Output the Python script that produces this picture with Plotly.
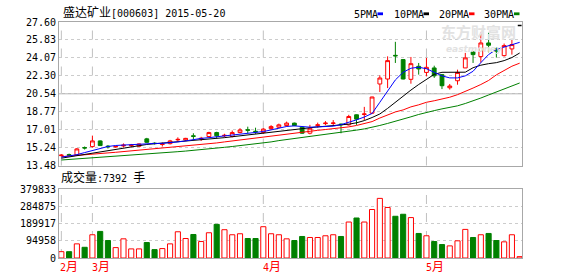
import plotly.graph_objects as go

# ---------------- data ----------------
bar_index = list(range(60))
open_ = [14.45, 14.55, 14.52, 15.25, 15.34, 15.90, 15.38, 15.30, 15.40, 15.42,
         15.37, 16.10, 15.68, 15.55, 15.63, 16.00, 15.99, 16.40, 16.10, 16.33,
         16.72, 16.40, 16.33, 16.72, 17.00, 16.85, 16.72, 17.11, 17.25, 17.41,
         17.65, 17.25, 16.66, 17.42, 17.60, 17.62, 17.55, 17.48, 18.47, 18.50,
         18.63, 21.50, 21.99, 24.32, 23.90, 21.96, 23.24, 22.64, 23.08, 22.42,
         21.13, 21.82, 23.08, 24.66, 24.20, 25.54, 24.98, 24.29, 24.95, 27.25]
high_ = [14.60, 14.65, 15.20, 15.35, 16.42, 15.95, 15.50, 15.40, 15.65, 15.60,
         15.65, 16.20, 15.75, 15.75, 16.00, 16.25, 16.20, 16.65, 16.30, 16.80,
         16.80, 16.60, 16.92, 17.15, 17.30, 17.20, 17.15, 17.45, 17.60, 17.80,
         17.70, 17.30, 17.48, 17.70, 17.85, 17.95, 17.62, 18.47, 18.50, 19.25,
         20.25, 22.35, 24.22, 25.65, 23.95, 24.16, 23.57, 24.07, 23.30, 22.45,
         21.50, 22.91, 24.56, 24.75, 26.60, 26.54, 25.10, 25.48, 25.87, 27.25]
low_ = [14.40, 14.40, 14.45, 15.05, 15.24, 15.40, 15.15, 15.25, 15.25, 15.30,
        15.30, 15.70, 15.55, 15.35, 15.55, 15.85, 15.90, 16.05, 15.90, 16.25,
        16.15, 16.25, 16.25, 16.65, 16.65, 16.60, 16.60, 17.00, 17.15, 17.30,
        17.35, 16.60, 16.55, 17.20, 17.45, 17.45, 16.65, 17.41, 17.48, 17.95,
        18.55, 20.71, 21.10, 23.57, 21.95, 21.53, 22.42, 22.25, 22.10, 21.00,
        20.95, 21.43, 23.08, 23.57, 23.60, 24.62, 24.10, 24.20, 24.39, 27.25]
close_ = [14.50, 14.50, 15.11, 15.20, 15.90, 15.44, 15.33, 15.35, 15.48, 15.48,
          15.60, 15.76, 15.64, 15.60, 15.90, 16.05, 16.15, 16.35, 16.15, 16.72,
          16.40, 16.45, 16.72, 16.98, 16.95, 16.80, 17.06, 17.31, 17.48, 17.65,
          17.41, 16.66, 17.15, 17.48, 17.65, 17.66, 17.50, 18.30, 18.04, 18.55,
          20.22, 22.09, 23.80, 24.27, 21.99, 23.50, 22.98, 23.14, 22.30, 21.33,
          21.30, 22.64, 24.07, 24.39, 25.54, 25.31, 24.72, 25.28, 25.38, 27.25]

ma5 = [14.30, 14.40, 14.55, 14.75, 14.95, 15.15, 15.35, 15.45, 15.50, 15.55,
       15.58, 15.62, 15.65, 15.66, 15.70, 15.80, 15.90, 16.05, 16.15, 16.22,
       16.30, 16.38, 16.48, 16.58, 16.66, 16.74, 16.82, 16.98, 17.15, 17.32,
       17.38, 17.30, 17.25, 17.28, 17.30, 17.35, 17.50, 17.70, 17.97, 18.25,
       18.60, 19.70, 20.80, 21.90, 22.65, 23.05, 23.15, 23.00, 22.65, 22.30,
       22.10, 22.10, 22.30, 22.75, 23.60, 24.40, 24.90, 25.15, 25.40, 25.60]
ma10 = [14.20, 14.32, 14.45, 14.57, 14.69, 14.83, 14.97, 15.10, 15.22, 15.34,
        15.45, 15.55, 15.62, 15.68, 15.74, 15.80, 15.86, 15.92, 15.98, 16.06,
        16.14, 16.22, 16.31, 16.40, 16.48, 16.57, 16.66, 16.76, 16.88, 16.98,
        17.08, 17.15, 17.22, 17.28, 17.34, 17.40, 17.47, 17.55, 17.68, 17.90,
        18.20, 18.55, 19.10, 19.70, 20.35, 20.90, 21.45, 21.95, 22.45, 22.65,
        22.65, 22.65, 22.66, 23.10, 23.35, 23.50, 23.60, 23.80, 24.10, 24.55]
ma20 = [14.35, 14.40, 14.45, 14.52, 14.58, 14.65, 14.72, 14.78, 14.85, 14.92,
        14.98, 15.05, 15.12, 15.18, 15.25, 15.32, 15.38, 15.44, 15.50, 15.60,
        15.70, 15.80, 15.90, 16.00, 16.10, 16.20, 16.30, 16.40, 16.50, 16.60,
        16.70, 16.78, 16.86, 16.94, 17.02, 17.10, 17.18, 17.28, 17.42, 17.58,
        17.80, 18.15, 18.45, 18.75, 18.95, 19.25, 19.45, 19.70, 19.85, 20.00,
        20.20, 20.45, 20.75, 21.10, 21.45, 21.85, 22.40, 22.80, 23.25, 23.55]
ma30 = [14.02, 14.07, 14.12, 14.17, 14.22, 14.27, 14.33, 14.38, 14.44, 14.49,
        14.55, 14.60, 14.66, 14.72, 14.78, 14.84, 14.90, 14.96, 15.02, 15.10,
        15.18, 15.27, 15.35, 15.43, 15.51, 15.59, 15.67, 15.80, 15.93, 16.03,
        16.12, 16.21, 16.30, 16.40, 16.52, 16.64, 16.74, 16.85, 16.96, 17.08,
        17.22, 17.42, 17.62, 17.82, 18.02, 18.27, 18.50, 18.72, 18.88, 19.05,
        19.20, 19.35, 19.58, 19.82, 20.12, 20.42, 20.70, 21.00, 21.30, 21.60]

volume = [35000, 35000, 78200, 59200, 128500, 147000, 96600, 57500, 106000, 50300,
          50300, 85500, 46400, 52000, 78200, 145000, 107800, 130000, 91000, 139600,
          186000, 156400, 128500, 134000, 107800, 107800, 173000, 134000, 128500, 106000,
          96600, 119000, 113400, 113400, 122900, 128500, 119000, 198900, 221200, 198900,
          268100, 329600, 279300, 230700, 241900, 223400, 135700, 122900, 91000, 74300,
          67000, 95000, 158100, 113400, 128500, 135700, 96600, 89400, 128500, 7392]

price_ticks = [13.48, 15.24, 17.01, 18.77, 20.54, 22.30, 24.07, 25.83, 27.60]
vol_ticks = [0, 94958, 189917, 284875, 379833]
month_start = [0, 4, 26, 47]
month_labels = ["2月", "3月", "4月", "5月"]
ma_names = ["5PMA", "10PMA", "20PMA", "30PMA"]
title_name = "盛达矿业"
title_code = "[000603] 2015-05-20"
vol_label = "成交量"
last_volume_text = "7392"
vol_unit = "手"

# ---------------- styling ----------------
W, H = 578, 276
ML, MR, MT, MB = 59, 56, 22, 18
PW, PH = W - ML - MR, H - MT - MB
RED, GREEN, BLUE, BLACK = "#ff0000", "#008000", "#0000ff", "#000000"
MA_COLORS = [BLUE, BLACK, RED, GREEN]
GRID = "#cccccc"
FRAME = "#a8a8a8"
MONO = "DejaVu Sans Mono, Noto Sans CJK SC"


def px_x(p):
    return (p - ML) / PW


def px_y(p):
    return (H - MB - p) / PH


price_dom = [px_y(165.5), 1.0]
vol_dom = [0.0, px_y(189.3)]
xr = [-0.3, 59.3]

flat = [o == h == l == c for o, h, l, c in zip(open_, high_, low_, close_)]
idx_n = [i for i in bar_index if not flat[i]]
idx_f = [i for i in bar_index if flat[i]]

fig = go.Figure()
fig.add_trace(go.Candlestick(
    x=idx_n, open=[open_[i] for i in idx_n], high=[high_[i] for i in idx_n],
    low=[low_[i] for i in idx_n], close=[close_[i] for i in idx_n],
    increasing=dict(line=dict(color=RED, width=1), fillcolor="#ffffff"),
    decreasing=dict(line=dict(color=GREEN, width=1), fillcolor=GREEN),
    whiskerwidth=0, xaxis="x", yaxis="y", showlegend=False, hoverinfo="skip"))
if idx_f:
    fig.add_trace(go.Candlestick(
        x=idx_f, open=[open_[i] for i in idx_f], high=[high_[i] for i in idx_f],
        low=[low_[i] for i in idx_f], close=[close_[i] for i in idx_f],
        increasing=dict(line=dict(color=BLACK, width=1.5), fillcolor=BLACK),
        decreasing=dict(line=dict(color=BLACK, width=1.5), fillcolor=BLACK),
        whiskerwidth=0, xaxis="x", yaxis="y", showlegend=False, hoverinfo="skip"))

for series, col in zip([ma30, ma20, ma10, ma5], [GREEN, RED, BLACK, BLUE]):
    fig.add_trace(go.Scatter(x=bar_index, y=series, mode="lines",
                             line=dict(color=col, width=1),
                             xaxis="x", yaxis="y", showlegend=False, hoverinfo="skip"))

up = [c >= o for o, c in zip(open_, close_)]
fig.add_trace(go.Bar(
    x=bar_index, y=volume,
    marker=dict(color=["#ffffff" if u else GREEN for u in up],
                line=dict(color=[RED if u else GREEN for u in up], width=1)),
    xaxis="x2", yaxis="y2", showlegend=False, hoverinfo="skip"))

axis_common = dict(showline=True, mirror=True, linecolor=FRAME, linewidth=1,
                   zeroline=False, fixedrange=True)
tickfont = dict(family=MONO, size=10, color="#000000")

shapes = []
# darker middle line of price panel
shapes.append(dict(type="line", xref="x domain", yref="y", x0=0, x1=1,
                   y0=price_ticks[4], y1=price_ticks[4],
                   line=dict(color=FRAME, width=1), layer="below"))
for m in month_start:
    for xa, ya in (("x", "y domain"), ("x2", "y2 domain")):
        shapes.append(dict(type="line", xref=xa, yref=ya, x0=m, x1=m, y0=0, y1=1,
                           line=dict(color="#c0c0c0", width=1, dash="dash"), layer="below"))

annotations = []
# faint watermark (drawn first so other texts sit above it)
annotations.append(dict(text="<b>东方财富网</b>", xref="paper", yref="paper",
                        x=px_x(478), y=px_y(31), xanchor="center", yanchor="middle",
                        showarrow=False, font=dict(family="Noto Sans CJK SC", size=15, color="#e2e2e2")))
annotations.append(dict(text="<b><i>eastmoney</i></b>", xref="paper", yref="paper",
                        x=px_x(474), y=px_y(49), xanchor="center", yanchor="middle",
                        showarrow=False, font=dict(family="DejaVu Sans", size=9, color="#e2e2e2")))

annotations.append(dict(
    text=f'<span style="font-size:12px">{title_name}</span>{title_code}',
    xref="paper", yref="paper", x=px_x(61), y=px_y(12.5), xanchor="left", yanchor="middle",
    showarrow=False, font=dict(family=MONO, size=10, color="#000000")))
annotations.append(dict(
    text=f'<span style="font-size:12px">{vol_label}</span>:{last_volume_text} <span style="font-size:12px">{vol_unit}</span>',
    xref="paper", yref="paper", x=px_x(59), y=px_y(177.5), xanchor="left", yanchor="middle",
    showarrow=False, font=dict(family=MONO, size=10, color="#000000")))

legend_text_x = [351.5, 391.5, 436.5, 481.5]
legend_chip_x = [377.5, 423.5, 469, 514]
for name, col, tx, cx in zip(ma_names, MA_COLORS, legend_text_x, legend_chip_x):
    annotations.append(dict(text=name, xref="paper", yref="paper", x=px_x(tx), y=px_y(14),
                            xanchor="left", yanchor="middle", showarrow=False,
                            font=dict(family=MONO, size=10, color="#000000")))
    shapes.append(dict(type="rect", xref="paper", yref="paper",
                       x0=px_x(cx), x1=px_x(cx + 5.5), y0=px_y(15.2), y1=px_y(12.4),
                       fillcolor=col, line=dict(width=0)))

for i, (m, lab) in enumerate(zip(month_start, month_labels)):
    annotations.append(dict(
        text=f'{lab[0]}<span style="font-size:12px">{lab[1:]}</span>',
        xref="x2", yref="paper", x=m, y=px_y(266.5), xanchor="left", yanchor="middle",
        xshift=-3 if i == 0 else -2, showarrow=False,
        font=dict(family=MONO, size=10, color=RED)))

fig.update_layout(
    width=W, height=H, margin=dict(l=ML, r=MR, t=MT, b=MB, pad=0),
    paper_bgcolor="#ffffff", plot_bgcolor="#ffffff",
    showlegend=False, bargap=0.34, boxgap=0.3,
    xaxis=dict(domain=[0, 1], range=xr, showticklabels=False, showgrid=False,
               rangeslider=dict(visible=False), anchor="y", **axis_common),
    yaxis=dict(domain=price_dom, range=[price_ticks[0], price_ticks[-1]],
               tickvals=price_ticks, ticktext=[f"{v:.2f}" for v in price_ticks],
               showgrid=True, gridcolor=GRID, griddash="dot", gridwidth=1,
               ticks="", tickfont=tickfont, anchor="x", **axis_common),
    xaxis2=dict(domain=[0, 1], range=xr, showticklabels=False, showgrid=False,
                anchor="y2", **axis_common),
    yaxis2=dict(domain=vol_dom, range=[vol_ticks[0], vol_ticks[-1]],
                tickvals=vol_ticks, ticktext=[str(v) for v in vol_ticks],
                showgrid=True, gridcolor=GRID, griddash="dot", gridwidth=1,
                ticks="", tickfont=tickfont, anchor="x2", **axis_common),
    shapes=shapes, annotations=annotations,
)

fig.write_html("out.html", config=dict(displayModeBar=False))
